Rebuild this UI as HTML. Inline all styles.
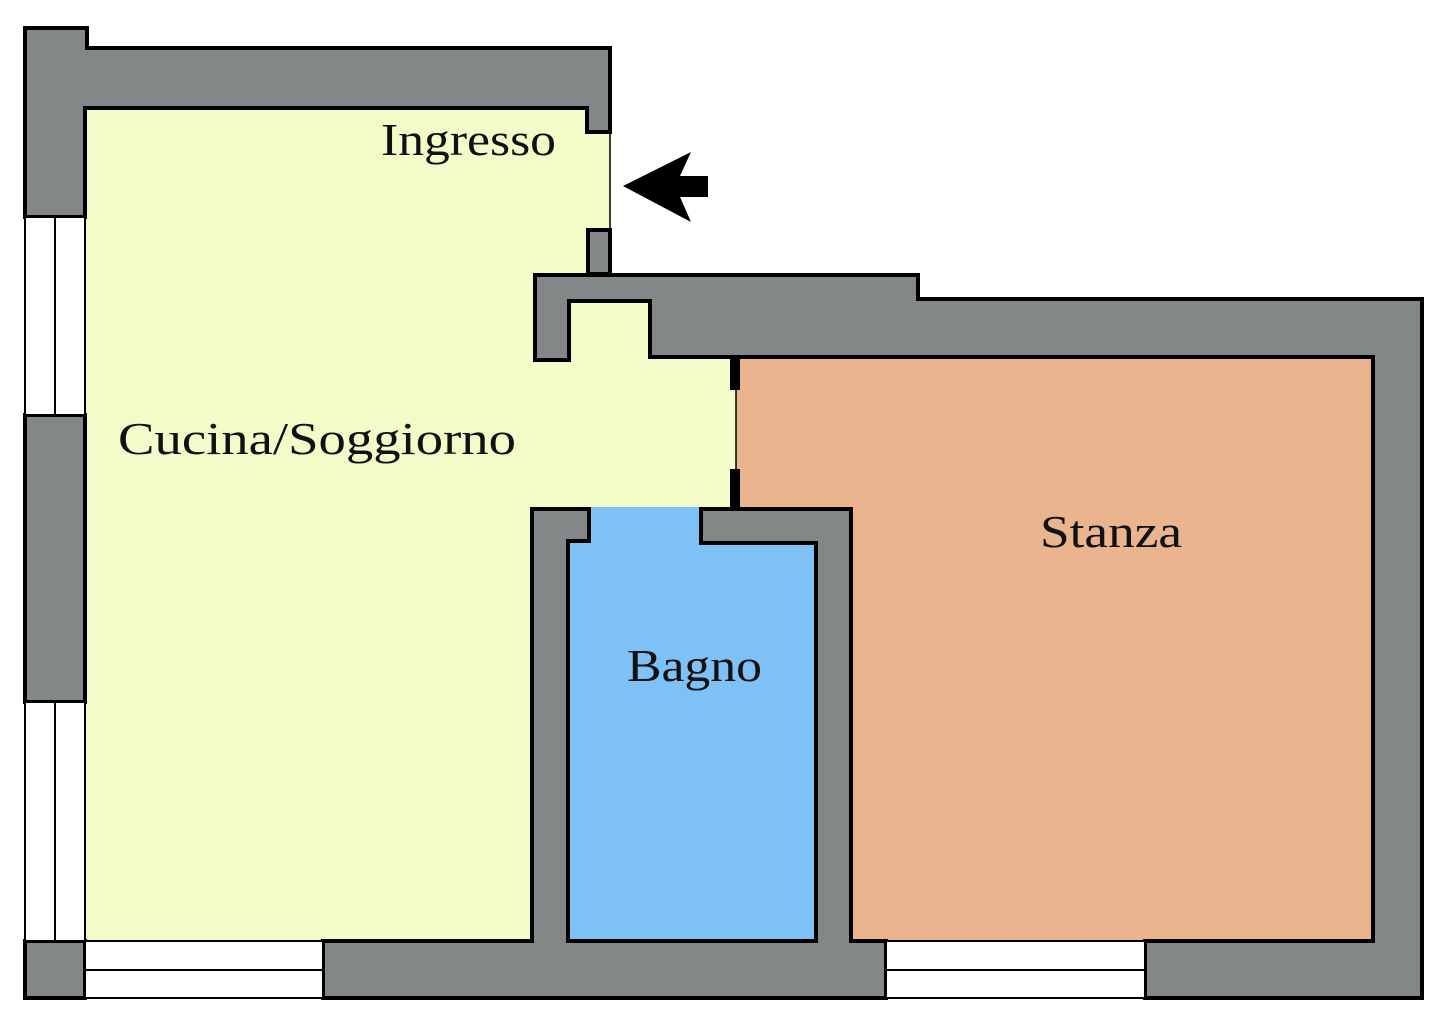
<!DOCTYPE html>
<html><head><meta charset="utf-8"><style>
html,body{margin:0;padding:0;background:#fff;width:1447px;height:1026px;overflow:hidden}
text{font-family:"Liberation Serif",serif;fill:#111}
</style></head><body>
<svg width="1447" height="1026" viewBox="0 0 1447 1026" xmlns="http://www.w3.org/2000/svg">
<!-- room fills -->
<polygon fill="#f3fbc8" points="85,106 611,106 611,275 535,275 535,360 569,360 569,300 650,300 650,357 737,357 737,509 532,509 532,943 85,943"/>
<rect x="736" y="355" width="639" height="588" fill="#eab48f"/>
<rect x="566" y="507" width="252" height="436" fill="#7dc1f6"/>
<g stroke="#000" stroke-width="4" stroke-linejoin="miter">
<polygon fill="#838787" points="25,28 87,28 87,48 610,48 610,132 587,132 587,108 85,108 85,217 25,217"/>
<rect x="588" y="230" width="22" height="44" fill="#838787"/>
<polygon fill="#838787" points="535,275 918,275 918,299 1422,299 1422,998 1145,998 1145,941 1373,941 1373,357 650,357 650,301 569,301 569,360 535,360"/>
<rect x="25" y="415" width="60" height="287" fill="#838787"/>
<rect x="25" y="941" width="60" height="57" fill="#838787"/>
<polygon fill="#838787" points="323,941 532,941 532,509 589,509 589,541 568,541 568,941 816,941 816,543 701,543 701,509 851,509 851,941 886,941 886,998 323,998"/>
</g>
<g fill="#fff" stroke="#000" stroke-width="2">
<rect x="25" y="217" width="60" height="198"/>
<rect x="25" y="702" width="60" height="239"/>
<rect x="85" y="941" width="238" height="57"/>
<rect x="886" y="941" width="259" height="57"/>
<line x1="55" y1="217" x2="55" y2="415"/>
<line x1="55" y1="702" x2="55" y2="941"/>
<line x1="85" y1="970" x2="323" y2="970"/>
<line x1="886" y1="970" x2="1145" y2="970"/>
</g>
<line x1="610" y1="132" x2="610" y2="230" stroke="#000" stroke-width="1.5"/>
<line x1="736" y1="357" x2="736" y2="509" stroke="#000" stroke-width="1.5"/>
<rect x="730" y="357" width="10" height="33" fill="#000"/>
<rect x="730" y="469" width="10" height="40" fill="#000"/>
<polygon fill="#000" points="623,186 691,152 680,176 708,176 708,197 680,197 691,222"/>
<text x="381" y="155" font-size="46" textLength="175" lengthAdjust="spacingAndGlyphs">Ingresso</text>
<text x="118" y="454" font-size="46" textLength="398" lengthAdjust="spacingAndGlyphs">Cucina/Soggiorno</text>
<text x="1040" y="547" font-size="46" textLength="142" lengthAdjust="spacingAndGlyphs">Stanza</text>
<text x="627" y="681" font-size="46" textLength="135" lengthAdjust="spacingAndGlyphs">Bagno</text>
</svg>
</body></html>
